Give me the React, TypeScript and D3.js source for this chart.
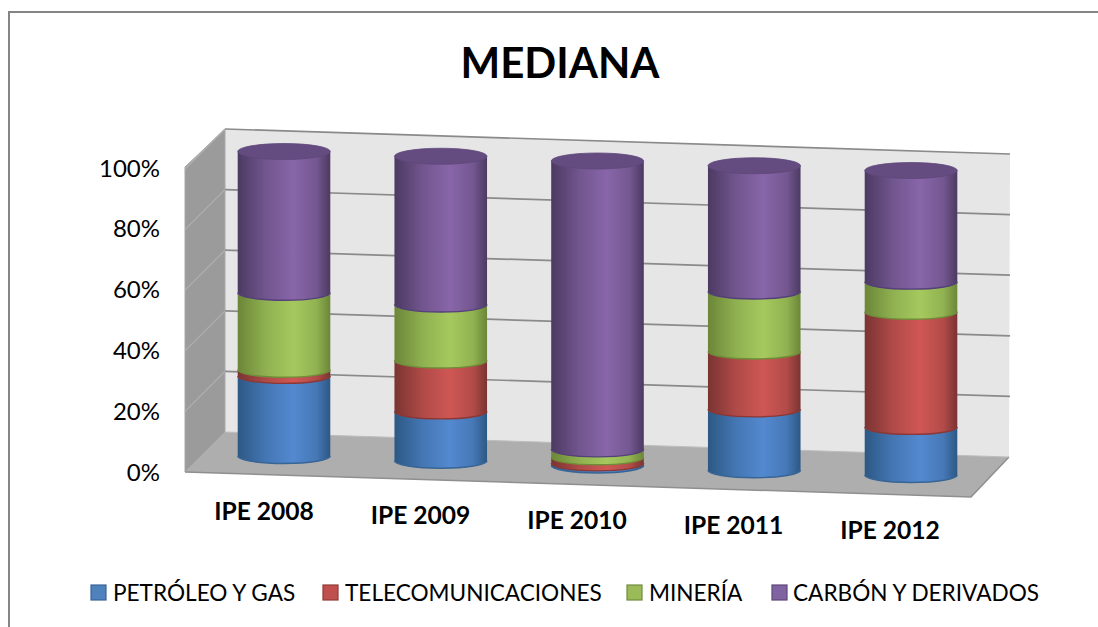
import React from "react";
import * as d3 from "d3";

const categories = ["IPE 2008", "IPE 2009", "IPE 2010", "IPE 2011", "IPE 2012"];
const seriesNames = ["PETRÓLEO Y GAS", "TELECOMUNICACIONES", "MINERÍA", "CARBÓN Y DERIVADOS"];
const petroleo = [26.3, 16.2, 0.7, 20.0, 15.8];
const telecom = [2.0, 16.7, 2.0, 19.0, 37.8];
const mineria = [25.3, 18.4, 2.6, 19.7, 9.9];
const carbon = [46.4, 48.7, 94.7, 41.3, 36.5];
const yTicks = [0, 20, 40, 60, 80, 100];

const seriesValues = [petroleo, telecom, mineria, carbon];
const colors = [
  { edge: "#2c5884", mid: "#5389d0", line: "#376595", sw: "#4f81bd", swl: "#3a6595" },
  { edge: "#7a3432", mid: "#cf5754", line: "#8b3735", sw: "#c0504d", swl: "#8f3a38" },
  { edge: "#6b8638", mid: "#a5c95e", line: "#6f8c38", sw: "#9bbb59", swl: "#718b3f" },
  { edge: "#4c3a62", mid: "#8866a9", line: "#54407a", sw: "#8064a2", swl: "#5d4778" },
];
const FONT = "Lato, 'Open Sans', sans-serif";

// layout
const wall = {
  tl: [225, 129], tr: [1010, 154], br: [1009, 457], bl: [225, 432],
  ftl: [185, 167], fbl: [185, 472], fbr: [971, 497],
};
const x = d3.scalePoint<number>().domain(d3.range(5)).range([284, 911]);
const baseY = d3.scaleLinear().domain([0, 4]).range([456, 475]);
const barH = d3.scaleLinear().domain([0, 100]).range([0, 304.5]);
const rx = 46.3;
const ry = 7.5;
const poly = (p: number[][]) => "M" + p.map((d) => d.join(",")).join("L") + "Z";
const wallY = d3.scaleLinear().domain([0, 100]).range([0, 303]);
const tickY = d3.scaleLinear().domain([0, 100]).range([472, 168]);
const labelX = d3.scalePoint<number>().domain(d3.range(5)).range([264, 890]);
const labelY = d3.scaleLinear().domain([0, 4]).range([519.5, 539]);

export default function App() {
  const stack = categories.map((_, i) => {
    let acc = 0;
    return seriesValues.map((s) => {
      const y0 = acc;
      acc += s[i];
      return { y0, y1: acc };
    });
  });
  // legend layout
  const legendX = [91, 323, 627, 772];
  const legendTextX = [113, 345, 649, 793];
  return (
    <svg width={1098} height={627} style={{ position: "absolute", left: 0, top: 0, display: "block" }}>
      <defs>
        {colors.map((c, k) => (
          <linearGradient id={`g${k}`} key={k} x1="0" x2="1" y1="0" y2="0">
            <stop offset="0" stopColor={c.edge} />
            <stop offset="0.3" stopColor={d3.interpolateRgb(c.edge, c.mid)(0.62)} />
            <stop offset="0.6" stopColor={c.mid} />
            <stop offset="0.85" stopColor={d3.interpolateRgb(c.edge, c.mid)(0.66)} />
            <stop offset="1" stopColor={c.edge} />
          </linearGradient>
        ))}
      </defs>
      <rect x={0} y={0} width={1098} height={627} fill="#fff" />
      <path d="M9,627V12H1098" fill="none" stroke="#858585" strokeWidth={2} />

      <text x={560} y={78} textAnchor="middle" fontFamily={FONT} fontWeight={700} fontSize={42} fill="#000">MEDIANA</text>

      {/* walls */}
      <path d={poly([wall.tl, wall.tr, wall.br, wall.bl])} fill="#e6e6e6" />
      <path d={poly([wall.tl, wall.bl, wall.fbl, wall.ftl])} fill="#9b9b9b" stroke="#a8a8a8" strokeWidth={1} />
      <path d={poly([wall.bl, wall.br, wall.fbr, wall.fbl])} fill="#aeaeae" />
      <path d={`M${wall.fbl[0]},${wall.fbl[1]}L${wall.fbr[0]},${wall.fbr[1]}L${wall.br[0]},${wall.br[1]}`} fill="none" stroke="#8f8f8f" strokeWidth={1.5} />
      <path d={`M${wall.bl[0]},${wall.bl[1]}L${wall.br[0]},${wall.br[1]}`} fill="none" stroke="#bdbdbd" strokeWidth={1} />
      {yTicks.map((t) => (
        <g key={t}>
          {t > 0 && (
            <path d={`M${wall.tl[0]},${wall.bl[1] - wallY(t)}L${wall.tr[0]},${wall.br[1] - wallY(t)}`} stroke="#8a8a8a" strokeWidth={1.7} fill="none" />
          )}
          {t > 0 && (
            <path d={`M${wall.ftl[0]},${wall.fbl[1] - wallY(t)}L${wall.tl[0]},${wall.bl[1] - wallY(t)}`} stroke="#b0b0b0" strokeWidth={1.2} fill="none" />
          )}
          <text x={160} y={tickY(t) + 8.5} textAnchor="end" fontFamily={FONT} fontSize={24} fill="#000">{t}%</text>
        </g>
      ))}

      {/* columns */}
      {categories.map((cat, i) => {
        const cx = x(i)!;
        const b = baseY(i);
        const left = cx - rx;
        const right = cx + rx;
        const topY = b - barH(100);
        return (
          <g key={cat}>
            {stack[i].map((seg, k) => {
              const yb = b - barH(seg.y0);
              const yt = b - barH(seg.y1);
              return (
                <g key={k}>
                  <path
                    d={`M${left},${yt}L${left},${yb}A${rx},${ry} 0 0 0 ${right},${yb}L${right},${yt}Z`}
                    fill={`url(#g${k})`}
                  />
                  <path
                    d={`M${left},${yb}A${rx},${ry} 0 0 0 ${right},${yb}`}
                    fill="none"
                    stroke={colors[k].line}
                    strokeWidth={1.4}
                  />
                </g>
              );
            })}
            <ellipse cx={cx} cy={topY} rx={rx} ry={ry + 0.5} fill="#644c80" stroke="#5f477b" strokeWidth={0.8} />
            <text x={labelX(i)!} y={labelY(i)} textAnchor="middle" fontFamily={FONT} fontWeight={700} fontSize={24.6} fill="#000">{cat}</text>
          </g>
        );
      })}

      {/* legend */}
      {seriesNames.map((n, k) => (
        <g key={n}>
          <rect x={legendX[k]} y={585} width={15} height={15} fill={colors[k].sw} stroke={colors[k].swl} strokeWidth={1.2} />
          <text x={legendTextX[k]} y={601} fontFamily={FONT} fontSize={22.6} fill="#000">{n}</text>
        </g>
      ))}
    </svg>
  );
}
